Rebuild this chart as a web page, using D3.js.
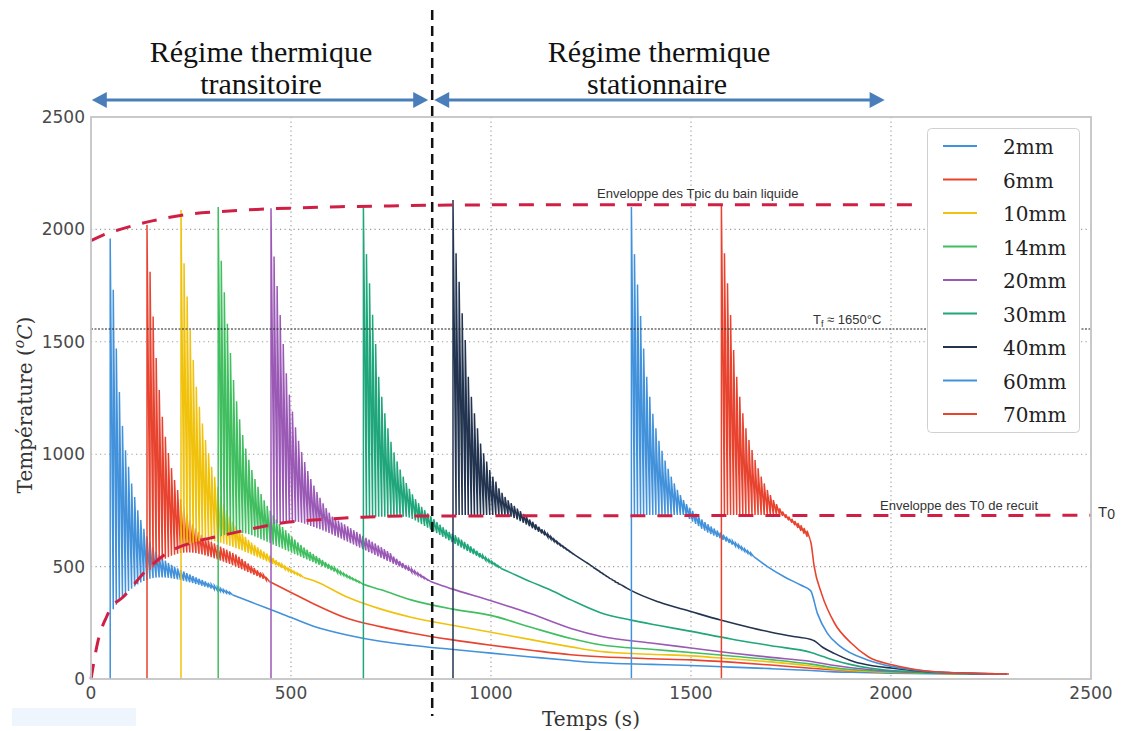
<!DOCTYPE html>
<html><head><meta charset="utf-8">
<script src="https://cdn.jsdelivr.net/npm/d3@7"></script>
<style>body{margin:0;background:#fff}svg{display:block}</style>
</head><body><svg id="c" width="1121" height="731"></svg>
<script>
// ---------------- DATA ----------------
const seriesNames = ["2mm","6mm","10mm","14mm","20mm","30mm","40mm","60mm","70mm"];
const seriesColors = ["#4291db","#e8432f","#f0c20c","#41bf60","#9b59b6","#1fa67a","#233450","#4291db","#e8432f"];
const startTimes = [48,140,225,318,450,681,905,1351,1576];
const cyclePeriod = 7.65;

const peaks2mm = [1959,1732,1470,1277,1126,1018,944,870,810,751,707,668,635,608,585,566,550,537,526,516,508,500,492,485,478,471,465,458,452,446,440,434,428,422,416,410,404,398,392,386];
const valleys2mm = [310,330,348,364,378,391,402,412,421,429,436,441,446,449,451,452,452,451,450,448,446,443,440,437,434,430,427,423,419,415,411,407,403,399,394,390,386,382,378,374];
const tail2mm = [[400,342],[473,293],[556,235],[640,196],[723,168],[800,150],[900,132],[1000,115],[1100,98],[1200,82],[1274,72],[1400,65],[1500,60],[1600,53],[1700,46],[1800,38],[1850,33],[1900,30],[2000,26],[2100,24],[2200,22],[2290,22]];

const peaks6mm = [2020,1812,1612,1428,1286,1167,1078,1005,938,885,841,800,765,735,710,688,670,654,641,630,620,611,603,596,589,582,575,568,561,554,544,534,524,514,504,494,484,474,464,450];
const valleys6mm = [485,497,508,518,527,535,542,548,553,557,560,562,563,563,562,560,557,554,550,546,542,537,532,527,522,517,512,506,500,494,488,482,476,470,464,458,452,446,440,434];
const tail6mm = [[500,385],[556,335],[640,270],[723,233],[800,205],[900,175],[1000,150],[1100,128],[1200,108],[1274,99],[1400,90],[1500,85],[1600,75],[1700,62],[1800,48],[1900,36],[2000,30],[2100,26],[2200,23],[2290,22]];

const peaks10mm = [2086,1849,1701,1552,1419,1300,1211,1137,1063,1004,944,900,855,815,780,750,723,700,680,662,646,632,619,607,596,586,576,567,558,549,538,528,519,510,501,493,485,478,471,464];
const valleys10mm = [588,595,601,606,610,613,615,616,616,615,613,610,606,602,597,592,587,582,577,572,566,560,554,548,542,536,530,524,518,512,506,500,494,488,482,476,470,464,458,452];
const tail10mm = [[556,438],[640,365],[723,312],[800,275],[900,240],[1000,208],[1100,175],[1200,143],[1274,122],[1400,110],[1500,103],[1600,90],[1700,76],[1800,58],[1850,46],[1900,38],[2000,30],[2100,26],[2200,23],[2290,22]];

const peaks14mm = [2100,1860,1720,1580,1450,1330,1235,1155,1085,1025,975,930,890,855,823,795,770,748,728,710,690,676,662,648,634,620,608,596,585,575,565,556,547,538,529,520,512,504,496,486,478,470,462,455,448,441,434];
const valleys14mm = [635,640,644,647,649,650,650,649,647,644,640,634,628,622,616,610,604,598,592,586,580,574,568,562,556,550,544,538,532,526,520,514,508,502,496,490,484,478,472,466,460,454,448,442,436,430,424];
const tail14mm = [[700,410],[723,398],[800,352],[900,312],[1000,283],[1100,230],[1200,180],[1274,152],[1400,132],[1500,118],[1600,102],[1700,86],[1800,66],[1850,52],[1900,42],[2000,32],[2100,27],[2200,23],[2290,22]];

const peaks20mm = [2094,1879,1748,1619,1490,1360,1265,1190,1120,1060,1010,965,925,890,860,832,806,782,760,740,722,713,705,696,688,679,671,662,654,645,637,628,620,611,603,594,586,577,569,560,545,535,525,516,507,498,489,480,471,462,453,443];
const valleys20mm = [690,693,696,698,700,701,701,700,698,695,691,686,681,676,671,666,661,655,649,643,637,630,624,617,611,604,598,591,585,578,572,565,559,552,546,539,533,526,520,513,507,500,494,487,481,474,468,461,455,448,442,435];
const tail20mm = [[870,420],[900,402],[1000,348],[1100,290],[1200,225],[1274,190],[1400,160],[1500,138],[1600,116],[1700,96],[1800,78],[1850,62],[1900,50],[1950,41],[2000,35],[2100,28],[2200,24],[2290,22]];

const peaks30mm = [2100,1890,1760,1620,1490,1345,1256,1182,1115,1055,1008,968,932,900,872,846,822,800,782,766,751,737,724,711,698,686,675,664,654,646,640,630,620,610,600,590,580,570,560,550,540,531,522,513,504];
const valleys30mm = [722,722,722,722,722,722,722,722,722,722,722,722,722,722,718,712,705,697,689,681,673,665,657,649,641,633,625,617,609,601,593,585,577,569,562,555,548,541,534,527,520,513,506,499,492];
const tail30mm = [[1050,472],[1100,432],[1150,395],[1200,352],[1274,295],[1350,262],[1420,238],[1500,212],[1600,178],[1700,148],[1800,118],[1830,100],[1860,82],[1900,64],[1950,48],[2000,38],[2100,28],[2200,24],[2290,22]];

const peaks40mm = [2131,1894,1767,1627,1508,1345,1256,1182,1115,1048,1004,967,930,900,878,848,828,810,795,782,770,758,746,734,722,710,699,688,677,666,655,644,633,622,611,600,590,580,570,560,550,541,532,523,515,505,495,486,476,467,458,449,441,432,424];
const valleys40mm = [730,730,730,730,730,730,730,730,730,730,730,730,730,730,730,730,730,727,722,716,709,702,695,687,679,671,663,655,647,639,631,622,613,604,595,586,577,568,559,550,541,532,523,514,505,496,487,478,469,460,451,443,435,427,419];
const tail40mm = [[1351,393],[1420,342],[1500,300],[1574,262],[1650,228],[1700,208],[1760,188],[1800,176],[1808,170],[1830,140],[1858,114],[1908,77],[1950,60],[2004,48],[2100,32],[2200,25],[2290,22]];

const peaks60mm = [2100,1890,1755,1615,1470,1345,1256,1180,1115,1060,1015,972,935,900,870,842,818,796,778,762,748,735,722,710,698,688,678,669,660,651,642,633,624,615,606,597,588,579,570,561];
const valleys60mm = [730,730,730,730,730,730,730,730,730,730,730,730,730,730,730,730,730,725,712,700,690,680,668,660,652,645,638,632,626,619,612,605,598,591,584,576,568,560,552,544];
const tail60mm = [[1691,500],[1733,455],[1774,418],[1799,393],[1816,292],[1841,203],[1874,144],[1941,85],[2004,55],[2100,33],[2200,25],[2290,22]];

const peaks70mm = [2108,1894,1760,1619,1463,1345,1256,1182,1115,1063,1019,974,937,900,870,841,818,796,778,759,745,733,722,712,703,694,684,672,660];
const valleys70mm = [730,730,730,730,730,730,730,730,730,730,730,730,730,730,730,730,730,730,730,725,716,706,695,684,672,659,646,633,620];
const tail70mm = [[1800,605],[1808,500],[1826,382],[1859,248],[1901,159],[1943,99],[2005,62],[2068,40],[2151,28],[2200,25],[2295,22]];

const envelopeTpic = [[0,1950],[30,1975],[73,2000],[156,2039],[248,2068],[323,2079],[415,2089],[506,2095],[623,2101],[723,2104],[900,2108],[1200,2110],[2060,2110]];
const envelopeT0 = [[0,0],[18,173],[39,277],[48,310],[81,366],[139,485],[189,559],[248,604],[314,633],[390,663],[473,693],[556,707],[681,720],[800,725],[2500,728]];
const fusionLevel = 1557;
const regimeBoundary = 853;
const xTickValues = [0,500,1000,1500,2000,2500];
const yTickValues = [0,500,1000,1500,2000,2500];

const peaksAll = [peaks2mm,peaks6mm,peaks10mm,peaks14mm,peaks20mm,peaks30mm,peaks40mm,peaks60mm,peaks70mm];
const valleysAll = [valleys2mm,valleys6mm,valleys10mm,valleys14mm,valleys20mm,valleys30mm,valleys40mm,valleys60mm,valleys70mm];
const tailsAll = [tail2mm,tail6mm,tail10mm,tail14mm,tail20mm,tail30mm,tail40mm,tail60mm,tail70mm];

// ---------------- LAYOUT ----------------
const svg = d3.select("#c");
const X0 = 91, X1 = 1091, Y0 = 679, Y1 = 117;
const x = d3.scaleLinear().domain([0,2500]).range([X0,X1]);
const y = d3.scaleLinear().domain([0,2500]).range([Y0,Y1]);

svg.append("rect").attr("x",12).attr("y",708).attr("width",124).attr("height",18).attr("fill","#eef5fc");

const grid = svg.append("g");
xTickValues.filter(v=>v>0&&v<2500).forEach(v=>{
  grid.append("line").attr("x1",x(v)).attr("x2",x(v)).attr("y1",Y1).attr("y2",Y0)
    .attr("stroke","#9a9a9a").attr("stroke-width",1.1).attr("stroke-dasharray","1.2,3.3");
});
yTickValues.filter(v=>v>0&&v<2500).forEach(v=>{
  grid.append("line").attr("x1",X0).attr("x2",X1).attr("y1",y(v)).attr("y2",y(v))
    .attr("stroke","#9a9a9a").attr("stroke-width",1.1).attr("stroke-dasharray","1.2,3.3");
});

const line = d3.line().x(d=>x(d[0])).y(d=>y(d[1]));
const smooth = d3.line().x(d=>x(d[0])).y(d=>y(d[1])).curve(d3.curveMonotoneX);
const plot = svg.append("g");
seriesNames.forEach((name,i)=>{
  const s = startTimes[i], pk = peaksAll[i], vl = valleysAll[i];
  const pts = [[s,0]];
  pk.forEach((p,k)=>{
    const t = s + k*cyclePeriod;
    pts.push([t,p]);
    pts.push([t+cyclePeriod, vl[k]]);
  });
  const last = pts[pts.length-1];
  plot.append("path").datum(pts).attr("d",line).attr("fill","none")
    .attr("stroke",seriesColors[i]).attr("stroke-width",1.5).attr("stroke-linejoin","miter");
  const tail = [last].concat(tailsAll[i].filter(d=>d[0]>last[0]+0.5));
  plot.append("path").datum(tail).attr("d",smooth).attr("fill","none")
    .attr("stroke",seriesColors[i]).attr("stroke-width",1.6);
});

svg.append("line").attr("x1",X0).attr("x2",X1).attr("y1",y(fusionLevel)).attr("y2",y(fusionLevel))
  .attr("stroke","#222").attr("stroke-width",1.1).attr("stroke-dasharray","2,1.5");

const envColor = "#cf1f45";
svg.append("path").datum(envelopeTpic).attr("d",smooth)
  .attr("fill","none").attr("stroke",envColor).attr("stroke-width",3).attr("stroke-dasharray","15,12");
svg.append("path").datum(envelopeT0).attr("d",smooth)
  .attr("fill","none").attr("stroke",envColor).attr("stroke-width",3).attr("stroke-dasharray","15,12");

svg.append("rect").attr("x",X0).attr("y",Y1).attr("width",X1-X0).attr("height",Y0-Y1)
  .attr("fill","none").attr("stroke","#c4c4c4").attr("stroke-width",1.8);

const tickFont = "'DejaVu Sans', sans-serif";
xTickValues.forEach(v=>{
  svg.append("text").attr("x",x(v)).attr("y",699).attr("text-anchor","middle")
    .attr("font-family",tickFont).attr("font-size",17).attr("fill","#4a4a4a").text(v);
});
yTickValues.forEach(v=>{
  svg.append("text").attr("x",85).attr("y",y(v)+6).attr("text-anchor","end")
    .attr("font-family",tickFont).attr("font-size",17).attr("fill","#4a4a4a").text(v);
});

const serif = "'DejaVu Serif', serif";
svg.append("text").attr("x",591).attr("y",726).attr("text-anchor","middle")
  .attr("font-family",serif).attr("font-size",20).attr("fill","#333").text("Temps (s)");
const yt = svg.append("text").attr("transform","translate(32,405) rotate(-90)").attr("text-anchor","middle")
  .attr("font-family",serif).attr("font-size",20).attr("fill","#333");
yt.append("tspan").text("Température (");
yt.append("tspan").attr("font-style","italic").attr("font-size",14).attr("dy",-8).text("o");
yt.append("tspan").attr("font-style","italic").attr("dy",8).text("C");
yt.append("tspan").text(")");

const annFont = "'Liberation Sans', Arial, sans-serif";
svg.append("text").attr("x",597).attr("y",198).attr("font-family",annFont).attr("font-size",13).attr("fill","#333")
  .text("Enveloppe des Tpic du bain liquide");
svg.append("text").attr("x",880).attr("y",510).attr("font-family",annFont).attr("font-size",13).attr("fill","#333")
  .text("Enveloppe des T0 de recuit");
const tf = svg.append("text").attr("x",813).attr("y",324).attr("font-family",annFont).attr("font-size",13).attr("fill","#333");
tf.append("tspan").text("T");
tf.append("tspan").attr("font-size",9).attr("dy",3).text("f");
tf.append("tspan").attr("dy",-3).text(" \u2248 1650\u00b0C");
const t0 = svg.append("text").attr("x",1098).attr("y",517).attr("font-family",annFont).attr("font-size",15).attr("fill","#333");
t0.append("tspan").text("T");
t0.append("tspan").attr("dy",2).attr("font-size",14).text("0");

const lg = svg.append("g");
lg.append("rect").attr("x",927.5).attr("y",128.5).attr("width",152).attr("height",304).attr("rx",4)
  .attr("fill","#fff").attr("stroke","#d0d0d0").attr("stroke-width",1);
seriesNames.forEach((name,i)=>{
  const ly = 146 + i*33.5;
  lg.append("line").attr("x1",943).attr("x2",977).attr("y1",ly).attr("y2",ly)
    .attr("stroke",seriesColors[i]).attr("stroke-width",2);
  lg.append("text").attr("x",1003).attr("y",ly+8).attr("font-family",serif).attr("font-size",20)
    .attr("fill","#222").text(name);
});

svg.append("line").attr("x1",x(regimeBoundary)).attr("x2",x(regimeBoundary)).attr("y1",10).attr("y2",716)
  .attr("stroke","#111").attr("stroke-width",2.5).attr("stroke-dasharray","10,6");

const arrowColor = "#4a7ebb";
function arrow(xa, xb, yy){
  svg.append("line").attr("x1",xa+12).attr("x2",xb-12).attr("y1",yy).attr("y2",yy)
    .attr("stroke",arrowColor).attr("stroke-width",3);
  svg.append("path").attr("d",`M${xa},${yy} L${xa+15},${yy-8} L${xa+15},${yy+8} Z`).attr("fill",arrowColor);
  svg.append("path").attr("d",`M${xb},${yy} L${xb-15},${yy-8} L${xb-15},${yy+8} Z`).attr("fill",arrowColor);
}
arrow(x(2), x(843), 100);
arrow(x(858), x(1984), 100);

const tFont = "'Liberation Serif', 'Times New Roman', serif";
[["Régime thermique",261,62],["transitoire",261,94],["Régime thermique",659,62],["stationnaire",657,94]].forEach(d=>{
  svg.append("text").attr("x",d[1]).attr("y",d[2]).attr("text-anchor","middle")
    .attr("font-family",tFont).attr("font-size",30).attr("fill","#111").text(d[0]);
});
</script></body></html>
